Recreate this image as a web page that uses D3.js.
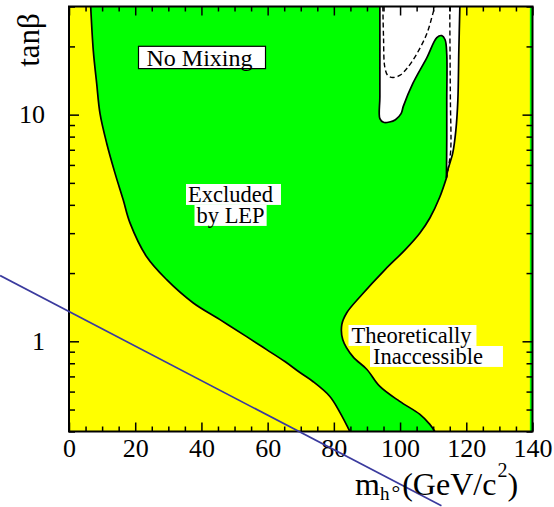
<!DOCTYPE html>
<html lang="en">
  <head>
    <meta charset="utf-8" />
    <title>LEP Higgs exclusion, no mixing</title>
    <style>
      body { margin: 0; background: #fff; }
      svg text { font-family: "Liberation Serif", "Times New Roman", serif; }
    </style>
  </head>
  <body>
    <div id="graph-display"></div>
    <script src="https://d3js.org/d3.v7.min.js"></script>
    <script>
      // [m_h (GeV/c^2), tan beta]
      const leftEdge = [[6.55, 30], [7.34, 19.17], [8.36, 13.73], [9.36, 10.13], [11.38, 7.48],
        [13.89, 5.52], [16.39, 4.2], [18.42, 3.33], [23.46, 2.36], [29.5, 1.87], [37.44, 1.48],
        [45.59, 1.246], [53.65, 1.049], [59.69, 0.919], [65.22, 0.814], [69.75, 0.728],
        [73.67, 0.665], [78.8, 0.571], [81.82, 0.486], [84.84, 0.4]];
      const rightEdge = [[110.5, 0.4], [109.0, 0.43], [106.0, 0.476], [99.9, 0.543], [93.9, 0.632],
        [90.0, 0.751], [85.75, 0.856], [82.7, 1.017], [82.4, 1.184], [83.9, 1.337], [87.9, 1.573],
        [95.4, 2.067], [101.5, 2.531], [106.0, 3.006], [109.0, 3.5], [112.0, 4.33], [114.0, 5.25]];
      const upperRight = [[114.0, 5.25], [114.4, 5.69], [115.9, 6.76], [116.85, 8.53],
        [117.45, 11.56], [117.75, 19.17], [118.06, 30]];
      const allowedEdge = [[93.9, 30], [93.9, 20], [93.9, 12], [93.9, 9.6], [95.0, 9.25], [96.8, 9.28],
        [98.6, 9.5], [100.3, 10.1], [101.0, 10.9], [103.86, 13.73], [108.1, 17.86], [111.1, 21.88],
        [112.6, 22.32], [113.6, 21.4], [114.1, 18.5], [114.1, 11.56], [114.1, 7.71], [114.0, 5.25]];
      const expectedLeft = [[94.8, 30], [95.0, 22], [95.4, 16.15], [96.3, 14.89], [97.8, 14.59],
        [99.9, 14.89], [102.05, 15.98], [105.1, 18.6], [108.1, 22.8], [109.9, 27.9], [110.5, 30]];
      const expectedRight = [[115.0, 30], [115.1, 18], [115.2, 11.56], [115.3, 6.97], [114.7, 5.98], [114.1, 5.3]];
      const greenStrip = [[139.2, 0.4], [140, 0.4], [140, 30], [139.2, 30]];
      const blueLine = [[-20.8, 1.95], [112.5, 0.188]];

      const massMajor = [0, 20, 40, 60, 80, 100, 120, 140];
      const massMinor = d3.range(0, 141, 5).filter(d => d % 20 != 0);
      const tanbMajor = [1, 10];
      const tanbMinor = [0.4, 0.5, 0.6, 0.7, 0.8, 0.9, 2, 3, 4, 5, 6, 7, 8, 9, 20, 30];

      const width = 554, height = 507;
      const plotLeft = 69, plotRight = 532.5, plotTop = 6.5, plotBottom = 431.5;

      const x = d3.scaleLinear().domain([0, 140]).range([plotLeft, plotRight]);
      const y = d3.scaleLog().domain([0.4, 30]).range([plotBottom, plotTop]);

      const svg = d3.select("#graph-display").append("svg")
        .attr("width", width).attr("height", height);

      const line = d3.line().x(d => x(d[0])).y(d => y(d[1]));
      const smooth = d3.line().x(d => x(d[0])).y(d => y(d[1])).curve(d3.curveCatmullRom.alpha(0.5));
      // join smoothed pieces into one path
      const joined = parts => parts.map((p, i) => i == 0 ? smooth(p) : smooth(p).replace(/^M/, "L")).join("");

      // regions
      svg.append("rect").attr("x", plotLeft).attr("y", plotTop)
        .attr("width", plotRight - plotLeft).attr("height", plotBottom - plotTop).attr("fill", "#ffff00");

      svg.append("path").attr("d", joined([leftEdge, rightEdge, allowedEdge.slice().reverse()]) + "Z")
        .attr("fill", "#00ff00");
      svg.append("path").attr("d", line(greenStrip) + "Z").attr("fill", "#00ff00");
      svg.append("path").attr("d", joined([allowedEdge, upperRight]) + "Z").attr("fill", "#ffffff");

      // contours
      [[leftEdge], [rightEdge, upperRight], [allowedEdge]].forEach(c => {
        svg.append("path").attr("d", joined(c)).attr("fill", "none")
          .attr("stroke", "#000").attr("stroke-width", 1.7);
      });
      [expectedLeft, expectedRight].forEach(c => {
        svg.append("path").attr("d", smooth(c)).attr("fill", "none")
          .attr("stroke", "#000").attr("stroke-width", 1.4).attr("stroke-dasharray", "5,3");
      });

      // axes, ticks pointing inward on all four sides
      const addAxis = (axis, tx, ty, labels) => {
        const g = svg.append("g").attr("transform", `translate(${tx},${ty})`).call(axis);
        g.select(".domain").remove();
        g.selectAll("line").attr("stroke", "#000").attr("stroke-width", 1.5);
        g.selectAll("text").attr("font-size", 26).attr("fill", "#000")
          .style("font-family", '"Liberation Serif", "Times New Roman", serif');
        if (!labels) g.selectAll("text").remove();
        return g;
      };
      addAxis(d3.axisBottom(x).tickValues(massMajor).tickSize(-9).tickPadding(7).tickFormat(d3.format("d")), 0, plotBottom, true);
      addAxis(d3.axisBottom(x).tickValues(massMinor).tickSize(-5), 0, plotBottom, false);
      addAxis(d3.axisTop(x).tickValues(massMajor).tickSize(-9), 0, plotTop, false);
      addAxis(d3.axisTop(x).tickValues(massMinor).tickSize(-5), 0, plotTop, false);
      addAxis(d3.axisLeft(y).tickValues(tanbMajor).tickSize(-10).tickPadding(24).tickFormat(d3.format("d")), plotLeft, 0, true);
      addAxis(d3.axisLeft(y).tickValues(tanbMinor).tickSize(-6), plotLeft, 0, false);
      addAxis(d3.axisRight(y).tickValues(tanbMajor).tickSize(-10), plotRight, 0, false);
      addAxis(d3.axisRight(y).tickValues(tanbMinor).tickSize(-6), plotRight, 0, false);

      svg.append("rect").attr("x", plotLeft).attr("y", plotTop)
        .attr("width", plotRight - plotLeft).attr("height", plotBottom - plotTop)
        .attr("fill", "none").attr("stroke", "#000").attr("stroke-width", 2);

      // labels: one text per label, one white box per line
      const boxed = (lines, size, border) => {
        const boxes = svg.append("g");
        const t = svg.append("text").attr("font-size", size);
        lines.forEach(l => {
          const s = t.append("tspan").attr("x", l.x).attr("y", l.y).text(l.text);
          const w = s.node().getComputedTextLength();
          boxes.append("rect")
            .attr("x", l.x - l.pad[0]).attr("y", l.y - size * 0.8)
            .attr("width", w + l.pad[0] + l.pad[1]).attr("height", size * 0.93)
            .attr("fill", "#fff")
            .attr("stroke", border ? "#000" : "none").attr("stroke-width", 1.2);
        });
      };
      boxed([{ text: "No Mixing", x: 146.5, y: 65.5, pad: [8, 13] }], 24, true);
      boxed([{ text: "Excluded", x: 188, y: 202, pad: [2, 8] },
             { text: "by LEP", x: 196.5, y: 223, pad: [2, 2] }], 22.5, false);
      boxed([{ text: "Theoretically", x: 351.5, y: 343, pad: [3, 5] },
             { text: "Inaccessible", x: 373, y: 364, pad: [3, 20] }], 22.5, false);

      // blue line drawn last, not clipped
      svg.append("path").attr("d", line(blueLine)).attr("fill", "none")
        .attr("stroke", "#3a3a9e").attr("stroke-width", 1.6);

      // axis titles
      svg.append("text").attr("transform", "translate(39,40) rotate(-90)")
        .attr("text-anchor", "middle").attr("font-size", 31).text("tanβ");

      const xt = svg.append("text").attr("x", 355).attr("y", 495).attr("font-size", 32);
      xt.append("tspan").text("m");
      xt.append("tspan").attr("font-size", 19).attr("dy", 5).text("h");
      xt.append("tspan").attr("font-size", 22).attr("dx", 2).text("°");
      xt.append("tspan").attr("dy", -5).attr("dx", 2).text("(GeV/c");
      xt.append("tspan").attr("font-size", 20).attr("dy", -18).attr("dx", 1).text("2");
      xt.append("tspan").attr("dy", 18).text(")");
    </script>
  </body>
</html>
